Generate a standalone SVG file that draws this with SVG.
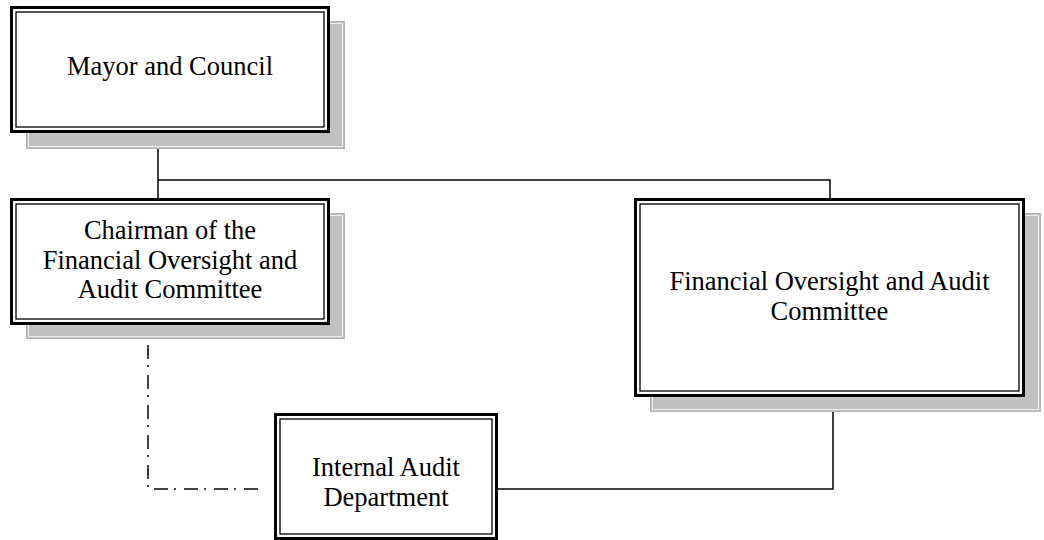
<svg xmlns="http://www.w3.org/2000/svg" width="1044" height="540" viewBox="0 0 1044 540">
<style>
.shadow{fill:#c0c0c0;stroke:#b4b4b4;stroke-width:1}
.shl{fill:none;stroke:#ececec;stroke-width:1}
.outer{fill:#fff;stroke:#000;stroke-width:3}
.inner{fill:none;stroke:#000;stroke-width:1.3}
.t{font-family:"Liberation Serif","Times New Roman",serif;font-size:26.5px;fill:#000;text-anchor:middle}
.ln{fill:none;stroke:#000;stroke-width:1.5}
.dd{fill:none;stroke:#000;stroke-width:1.5;stroke-dasharray:14 6 2 8}
</style>
<rect width="1044" height="540" fill="#fff"/>
<g id="connectors">
<polyline class="ln" points="158,133 158,198"/>
<polyline class="ln" points="158,180 830,180 830,198"/>
<polyline class="ln" points="833,397 833,489 498,489"/>
<polyline class="dd" points="148,345 148,489 264,489"/>
</g>
<g id="mayor">
<rect class="shadow" x="26.5" y="21.5" width="318" height="127"/>
<rect class="shl" x="28.5" y="23.5" width="314" height="123"/>
<rect class="outer" x="11.5" y="7.5" width="317" height="124"/>
<rect class="inner" x="16" y="12" width="308" height="115"/>
<text class="t" x="170" y="75">Mayor and Council</text>
</g>
<g id="chairman">
<rect class="shadow" x="26.5" y="213.5" width="318" height="125"/>
<rect class="shl" x="28.5" y="215.5" width="314" height="121"/>
<rect class="outer" x="11.5" y="199.5" width="317" height="124"/>
<rect class="inner" x="16" y="204" width="308" height="115"/>
<text class="t" x="170" y="239">Chairman of the</text>
<text class="t" x="170" y="269">Financial Oversight and</text>
<text class="t" x="170" y="298">Audit Committee</text>
</g>
<g id="committee">
<rect class="shadow" x="650.5" y="213.5" width="390" height="198"/>
<rect class="shl" x="652.5" y="215.5" width="386" height="194"/>
<rect class="outer" x="635.5" y="199.5" width="388" height="196"/>
<rect class="inner" x="640" y="204" width="379" height="187"/>
<text class="t" x="829.5" y="290">Financial Oversight and Audit</text>
<text class="t" x="829.5" y="320">Committee</text>
</g>
<g id="internal-audit">
<rect class="outer" x="275.5" y="414.5" width="221" height="124"/>
<rect class="inner" x="280" y="419" width="212" height="115"/>
<text class="t" x="386" y="476">Internal Audit</text>
<text class="t" x="386" y="506">Department</text>
</g>
</svg>
